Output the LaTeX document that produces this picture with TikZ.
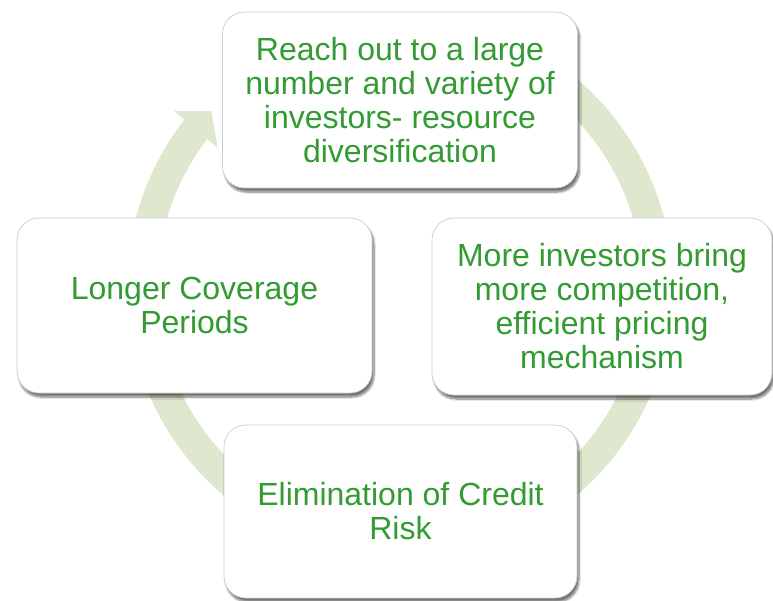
\documentclass[tikz,border=0pt]{standalone}
\usepackage{fontspec}
\setmainfont{Liberation Sans}
\usetikzlibrary{arrows.meta,shadows,shadows.blur,bending}
\definecolor{ringgreen}{RGB}{221,232,206}
\definecolor{txtgreen}{RGB}{50,155,50}
\tikzset{
  card/.style={draw=gray!40, line width=0.7pt, fill=white, rounded corners=22pt,
    inner sep=0pt, align=center, text=txtgreen,
    font=\fontsize{32}{34}\selectfont,
    blur shadow={shadow xshift=2pt, shadow yshift=-4pt, shadow blur steps=8, shadow opacity=55}},
  ring/.style={draw=ringgreen, line width=30pt}
}
\begin{document}
\begin{tikzpicture}[x=1pt,y=-1pt]
\useasboundingbox (0,0) rectangle (773,601);
\coordinate (c) at (400,287);
\draw[ring, -{Triangle[width=56pt,length=24pt]}] (c) ++(70:258pt) arc[start angle=70, end angle=-223, radius=258pt];
\node[card, minimum width=355pt, minimum height=176pt] (top) at (400,100)
  {Reach out to a large\\number and variety of\\investors- resource\\diversification};
\node[card, minimum width=355pt, minimum height=175pt] (left) at (194.5,305.5)
  {Longer Coverage\\Periods};
\node[card, minimum width=340pt, minimum height=177pt] (right) at (602,306.5)
  {More investors bring\\more competition,\\efficient pricing\\mechanism};
\node[card, minimum width=353pt, minimum height=173pt] (bottom) at (400.5,511.5)
  {Elimination of Credit\\Risk};
\end{tikzpicture}
\end{document}
